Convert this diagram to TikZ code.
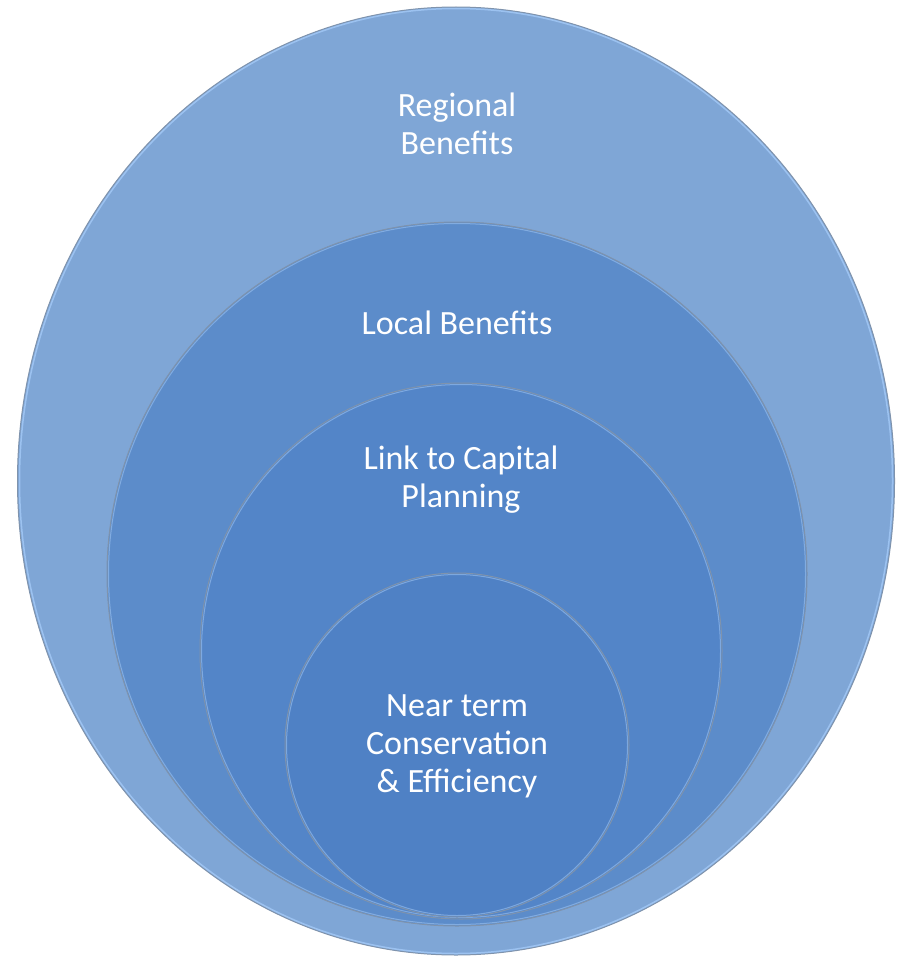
\documentclass[tikz,border=0pt]{standalone}
\usepackage{fontspec}
\setmainfont{Carlito}
\usetikzlibrary{shapes.geometric}
\definecolor{c1}{HTML}{7FA6D6}
\definecolor{c2}{HTML}{5C8CCA}
\definecolor{c3}{HTML}{5385C8}
\definecolor{c4}{HTML}{4F81C5}
\definecolor{edge}{HTML}{7F93AC}
\definecolor{hl}{HTML}{9CC2F0}
\tikzset{
  ring/.style={ellipse, draw=edge, line width=1pt, inner sep=0pt},
  lbl/.style={text=white, font=\fontsize{34}{38}\selectfont, align=center},
}
\begin{document}
\begin{tikzpicture}[x=1pt,y=-1pt]
\useasboundingbox (0,0) rectangle (899,958);
\node[ring, fill=c1, minimum width=877pt, minimum height=948pt] (e1) at (456,481) {};
\draw[hl, line width=1.5pt] (456,481) ellipse [x radius=436.5, y radius=472.5];
\node[ring, fill=c2, minimum width=700pt, minimum height=704pt] (e2) at (457,574) {};
\draw[hl, line width=1pt, opacity=0.6] (457,574) ellipse [x radius=348.5, y radius=350.5];
\node[ring, fill=c3, minimum width=522pt, minimum height=536pt] (e3) at (461,651) {};
\draw[hl, line width=1pt, opacity=0.6] (461,651) ellipse [x radius=259.5, y radius=266.5];
\node[ring, fill=c4, minimum width=344pt, minimum height=344pt] (e4) at (457,745) {};
\draw[hl, line width=1pt, opacity=0.6] (457,745) ellipse [x radius=170.5, y radius=170.5];
\node[lbl] (t1) at (457,124) {Regional\\Benefits};
\node[lbl] (t2) at (457,323) {Local Benefits};
\node[lbl] (t3) at (461,480) {Link to Capital\\Planning};
\node[lbl] (t4) at (457,746) {Near term\\Conservation\\\& Efficiency};
\end{tikzpicture}
\end{document}
